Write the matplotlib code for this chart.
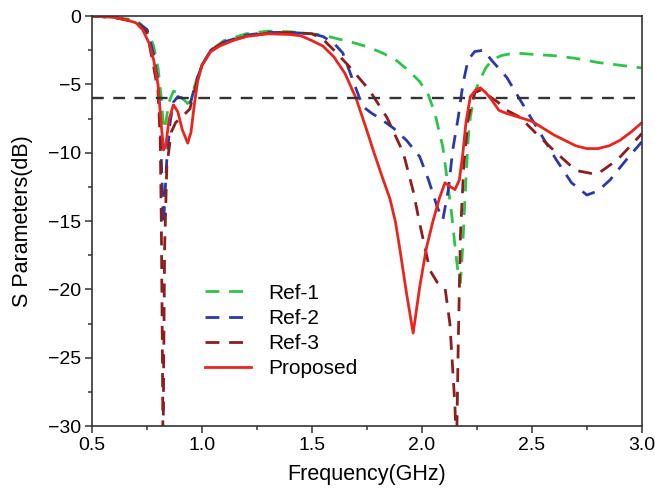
import matplotlib
matplotlib.use("Agg")
import matplotlib.pyplot as plt
from matplotlib.ticker import MultipleLocator

plt.rcParams['font.family'] = ['Liberation Sans', 'DejaVu Sans']

# ---------------- data ----------------
prop_x = [0.5, 0.6, 0.65, 0.7, 0.73, 0.76, 0.78, 0.80, 0.815, 0.825, 0.835, 0.85, 0.87, 0.89,
          0.91, 0.935, 0.95, 0.965, 0.98, 1.0, 1.04, 1.08, 1.14, 1.2, 1.3, 1.4, 1.45, 1.5, 1.55,
          1.6, 1.65, 1.7, 1.75, 1.78, 1.82, 1.855, 1.88, 1.9, 1.93, 1.96, 1.99, 2.02, 2.05, 2.08, 2.105,
          2.13, 2.15, 2.17, 2.185, 2.2, 2.22, 2.245, 2.265, 2.29, 2.32, 2.35, 2.38, 2.42, 2.46,
          2.5, 2.55, 2.6, 2.65, 2.7, 2.75, 2.8, 2.85, 2.9, 2.95, 3.0]
prop_y = [0, -0.1, -0.25, -0.5, -1.0, -2.0, -3.2, -5.0, -8.0, -9.8, -9.5, -7.6, -6.5, -7.0,
          -8.3, -9.3, -8.5, -6.5, -4.8, -3.6, -2.6, -2.2, -1.8, -1.5, -1.3, -1.35, -1.45, -1.8, -2.2,
          -3.0, -4.2, -6.0, -8.4, -9.9, -11.8, -13.4, -15.1, -17.1, -20.3, -23.2, -19.8, -17.0, -15.0, -13.3, -12.2,
          -12.5, -12.7, -12.0, -10.2, -7.8, -5.9, -5.4, -5.25, -5.6, -6.2, -6.9, -7.1, -7.3, -7.5,
          -7.7, -8.2, -8.7, -9.1, -9.5, -9.7, -9.7, -9.5, -9.1, -8.5, -7.8]

ref1_x = [0.5, 0.6, 0.7, 0.75, 0.78, 0.80, 0.815, 0.825, 0.835, 0.85, 0.87, 0.89, 0.91, 0.935,
          0.95, 0.965, 0.98, 1.0, 1.04, 1.1, 1.2, 1.3, 1.4, 1.5, 1.55, 1.6, 1.65, 1.7, 1.76, 1.82,
          1.88, 1.94, 1.99, 2.03, 2.06, 2.095, 2.115, 2.135, 2.15, 2.165, 2.175, 2.185, 2.195, 2.21,
          2.22, 2.24, 2.26, 2.29, 2.32, 2.36, 2.42, 2.5, 2.6, 2.7, 2.8, 2.9, 3.0]
ref1_y = [0, -0.1, -0.3, -1.0, -2.2, -3.8, -6.0, -8.3, -7.8, -6.3, -5.5, -5.6, -6.0, -6.4,
          -6.2, -5.2, -4.4, -3.6, -2.5, -1.8, -1.3, -1.1, -1.15, -1.3, -1.4, -1.6, -1.8, -2.0, -2.3, -2.7,
          -3.2, -4.0, -4.8, -5.8, -7.2, -9.6, -12.0, -14.5, -16.8, -18.9, -19.5, -17.0, -13.5, -9.0,
          -7.4, -5.6, -4.8, -3.8, -3.2, -2.9, -2.7, -2.8, -2.9, -3.1, -3.4, -3.6, -3.8]

ref2_x = [0.5, 0.6, 0.7, 0.75, 0.78, 0.80, 0.81, 0.818, 0.825, 0.832, 0.84, 0.855, 0.87, 0.89,
          0.91, 0.93, 0.945, 0.96, 0.98, 1.0, 1.04, 1.1, 1.2, 1.3, 1.4, 1.5, 1.55, 1.6, 1.64, 1.686,
          1.73, 1.77, 1.81, 1.87, 1.93, 1.99, 2.03, 2.07, 2.095, 2.12, 2.14, 2.165, 2.187, 2.21,
          2.24, 2.28, 2.32, 2.386, 2.445, 2.52, 2.61, 2.68, 2.75, 2.8, 2.855, 2.93, 3.0]
ref2_y = [0, -0.1, -0.4, -1.0, -2.8, -4.8, -8.0, -12.0, -15.3, -13.0, -10.5, -7.8, -6.3, -5.9,
          -6.0, -6.3, -6.5, -5.6, -4.5, -3.6, -2.5, -1.9, -1.4, -1.2, -1.2, -1.3, -1.5, -2.0, -2.7, -4.7,
          -6.6, -7.1, -7.5, -8.2, -9.1, -10.3, -12.0, -14.0, -14.9, -12.7, -9.8, -7.4, -4.9, -3.2,
          -2.6, -2.5, -3.3, -4.5, -6.1, -8.1, -10.5, -12.2, -13.1, -12.8, -12.0, -10.5, -9.2]

ref3_x = [0.5, 0.6, 0.7, 0.75, 0.78, 0.80, 0.81, 0.815, 0.82, 0.823, 0.826, 0.83, 0.84, 0.86,
          0.88, 0.9, 0.92, 0.945, 0.96, 0.98, 1.0, 1.04, 1.1, 1.2, 1.3, 1.4, 1.5, 1.55, 1.6, 1.67,
          1.76, 1.84, 1.915, 1.96, 1.99, 2.036, 2.07, 2.105, 2.127, 2.15, 2.157, 2.165, 2.175, 2.19,
          2.21, 2.24, 2.27, 2.3, 2.345, 2.386, 2.445, 2.52, 2.61, 2.7, 2.795, 2.89, 3.0]
ref3_y = [0, -0.1, -0.45, -1.2, -3.7, -5.5, -9.0, -15.0, -25.0, -32.0, -25.0, -17.0, -11.0, -8.5,
          -7.8, -7.5, -7.2, -6.8, -5.8, -4.6, -3.6, -2.5, -1.9, -1.5, -1.25, -1.2, -1.3, -1.7, -2.5, -3.7,
          -5.4, -7.4, -10.0, -12.8, -15.2, -18.6, -19.5, -19.9, -22.5, -28.5, -32.0, -24.0, -16.0, -11.0,
          -7.5, -5.6, -5.4, -5.8, -6.3, -6.9, -7.4, -8.6, -10.0, -11.3, -11.6, -10.5, -8.6]

ref_level = -6
labels = ['Ref-1', 'Ref-2', 'Ref-3', 'Proposed']

# ---------------- plot ----------------
fig = plt.figure(figsize=(6.55, 4.93), dpi=100)
ax = fig.add_axes([0.1405, 0.1359, 0.8395, 0.8316])

dash = (5, 3.5)
ax.plot(ref1_x, ref1_y, color='#2ec44a', lw=2.0, dashes=dash, label=labels[0])
ax.plot(ref2_x, ref2_y, color='#2b3aa6', lw=2.0, dashes=dash, label=labels[1])
ax.plot(ref3_x, ref3_y, color='#8b1e1e', lw=2.0, dashes=dash, label=labels[2])
ax.plot(prop_x, prop_y, color='#e8261f', lw=2.0, label=labels[3])
ax.axhline(ref_level, color='#333333', lw=1.7, dashes=(5, 4))

ax.set_xlim(0.5, 3.0)
ax.set_ylim(-30, 0)
ax.xaxis.set_major_locator(MultipleLocator(0.5))
ax.xaxis.set_minor_locator(MultipleLocator(0.25))
ax.yaxis.set_major_locator(MultipleLocator(5))
ax.yaxis.set_minor_locator(MultipleLocator(2.5))
ax.set_xticklabels([f'{v:.1f}' for v in ax.get_xticks()])
ax.tick_params(which='major', direction='out', length=5, width=1.1, labelsize=14,
               color='#333333', pad=3)
ax.tick_params(which='minor', direction='out', length=3, width=1.1, color='#333333')
ax.tick_params(top=False, right=False, which='both')
for s in ax.spines.values():
    s.set_linewidth(1.2)
    s.set_color('#333333')

ax.set_xlabel('Frequency(GHz)', fontsize=15.5, labelpad=7)
ax.set_ylabel('S Parameters(dB)', fontsize=15.5, labelpad=11)

ax.legend(loc='upper left', bbox_to_anchor=(0.205, 0.347), frameon=False, fontsize=15,
          handlelength=2.2, handletextpad=0.85, labelspacing=0.3, borderpad=0,
          borderaxespad=0)

fig.savefig('out.png', dpi=100)
